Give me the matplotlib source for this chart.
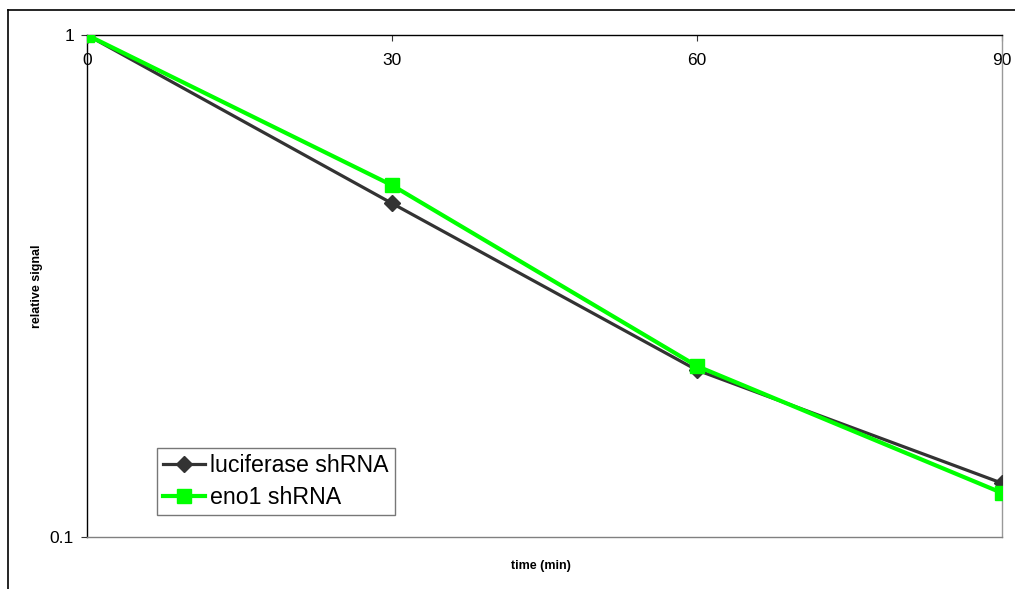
import matplotlib
matplotlib.use("Agg")
import matplotlib.pyplot as plt
from matplotlib.lines import Line2D
from matplotlib.ticker import FixedLocator, NullLocator

# data
time_min = [0, 30, 60, 90]
luciferase = [1.0, 0.462, 0.215, 0.128]
eno1 = [1.0, 0.502, 0.219, 0.1224]
x_ticks = [0, 30, 60, 90]
y_ticks = [0.1, 1]
y_tick_labels = ["0.1", "1"]

plt.rcParams['font.family'] = ['Liberation Sans', 'DejaVu Sans']

W, H = 1015, 589
fig = plt.figure(figsize=(W / 100, H / 100), dpi=100)
ax = fig.add_axes([87 / W, 1 - 537 / H, (1002 - 87) / W, (537 - 35) / H])

# series lines
ax.plot(time_min, luciferase, color="#333333", lw=2.3, marker="D", ms=8,
        label="luciferase shRNA", zorder=3)
ax.plot(time_min, eno1, color="#00ff00", lw=3, marker="s", ms=10.5,
        label="eno1 shRNA", zorder=4)

ax.set_yscale("log")
ax.set_ylim(0.1, 1)
ax.set_xlim(0, 90)
ax.yaxis.set_major_locator(FixedLocator(y_ticks))
ax.yaxis.set_minor_locator(NullLocator())
ax.set_yticklabels(y_tick_labels)
ax.set_xticks(x_ticks)

# x axis crosses at the top, labels sit under it
ax.tick_params(axis="x", bottom=False, labelbottom=False, top=True, labeltop=True,
               direction="in", length=4, pad=-24, labelsize=12.5, color="#333333")
ax.tick_params(axis="y", direction="out", length=4.3, pad=5, labelsize=12.5,
               color="#333333")

ax.spines["left"].set_color("black")
ax.spines["top"].set_color("black")
ax.spines["right"].set_color("#999999")
ax.spines["bottom"].set_color("#808080")
for s in ax.spines.values():
    s.set_linewidth(1)

leg = ax.legend(loc="lower left", bbox_to_anchor=(0.0765, 0.0438), borderaxespad=0,
                fontsize=16.7, frameon=True, fancybox=False, edgecolor="#555555",
                handlelength=1.8, handletextpad=0.25, labelspacing=0.4,
                borderpad=0.25)
leg.get_frame().set_linewidth(1)

# axis titles
fig.text(37 / W, 1 - 286 / H, "relative signal", rotation=90, ha="center", va="center",
         fontsize=9, fontweight="bold")
fig.text(541 / W, 1 - 566 / H, "time (min)", ha="center", va="center",
         fontsize=9, fontweight="bold")

# outer chart frame (cropped at right and bottom)
fig.add_artist(Line2D([8 / W, 1], [1 - 9.5 / H, 1 - 9.5 / H], color="black", lw=1.2))
fig.add_artist(Line2D([8 / W, 8 / W], [0, 1 - 9.5 / H], color="black", lw=1.2))

fig.savefig("out.png", dpi=100)
plt.close(fig)
